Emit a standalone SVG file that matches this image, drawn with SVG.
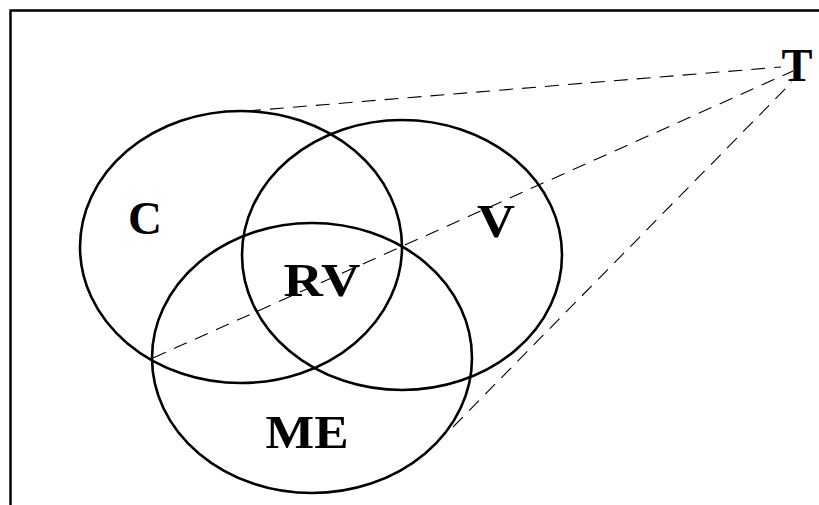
<svg xmlns="http://www.w3.org/2000/svg" width="819" height="505" viewBox="0 0 819 505">
<style>
.set{fill:none;stroke:#000;stroke-width:2.6}
.dash{fill:none;stroke:#000;stroke-width:1.1;stroke-dasharray:14 9}
.lbl{font-family:"Liberation Serif","Times New Roman",serif;font-weight:bold;font-size:46px;fill:#000;text-anchor:middle}
</style>
<rect width="819" height="505" fill="#fff"/>
<path d="M10.5 505 V10.5 H819" fill="none" stroke="#000" stroke-width="2.5"/>
<g id="connectors">
<line class="dash" x1="247" y1="111" x2="781" y2="67"/>
<line class="dash" x1="153" y1="358" x2="793" y2="71"/>
<line class="dash" x1="453" y1="427" x2="792" y2="82"/>
</g>
<g id="C"><ellipse class="set" cx="241" cy="247" rx="161" ry="136"/><text class="lbl" x="145" y="234" textLength="34" lengthAdjust="spacingAndGlyphs">C</text></g>
<g id="V"><ellipse class="set" cx="402" cy="255" rx="160" ry="135"/><text class="lbl" x="496" y="237" textLength="38" lengthAdjust="spacingAndGlyphs">V</text></g>
<g id="ME"><ellipse class="set" cx="312" cy="358" rx="160" ry="135"/><text class="lbl" x="307" y="448" textLength="83" lengthAdjust="spacingAndGlyphs">ME</text></g>
<g id="RV"><text class="lbl" x="322" y="296" textLength="77" lengthAdjust="spacingAndGlyphs">RV</text></g>
<g id="T"><text class="lbl" x="797" y="81" textLength="31" lengthAdjust="spacingAndGlyphs">T</text></g>
</svg>
